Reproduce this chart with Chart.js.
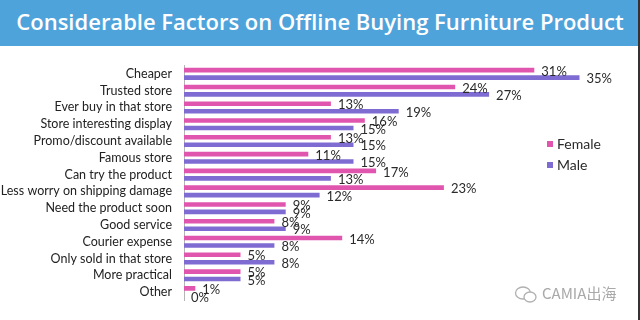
<!DOCTYPE html>
<html>
<head>
<meta charset="utf-8">
<script src="https://cdn.jsdelivr.net/npm/chart.js@4.4.0/dist/chart.umd.min.js"></script>
<style>
  html, body { margin: 0; padding: 0; background: #fff; }
  #wrap { position: relative; width: 640px; height: 320px; overflow: hidden; }
  #banner {
    position: absolute; left: 0; top: 0; width: 640px; height: 46px;
    background: #4fa3db; color: #fff;
    font-family: "Open Sans", sans-serif; font-weight: 600; font-size: 22px;
    line-height: 42px; text-align: center; white-space: nowrap;
  }
  #edge { position: absolute; right: 0; top: 0; width: 2px; height: 320px; background: #333; }
  #chartBox { position: absolute; left: 0; top: 46px; width: 638px; height: 274px; }
  #mark {
    position: absolute; left: 514px; top: 282px; height: 22px;
    font-family: "Noto Sans CJK SC", "Noto Sans", sans-serif; font-size: 15px;
    color: #a9a9a9; line-height: 22px; white-space: nowrap;
  }
  #mark svg { vertical-align: middle; margin-right: 4px; }
</style>
</head>
<body>
<div id="wrap">
  <div id="banner">Considerable Factors on Offline Buying Furniture Product</div>
  <div id="chartBox"><canvas id="chart" width="638" height="274"></canvas></div>
  <div id="mark"><svg width="24" height="20" viewBox="0 0 24 20"><ellipse cx="9" cy="8" rx="7.5" ry="6" fill="none" stroke="#b0b0b0" stroke-width="1.3"/><ellipse cx="16" cy="12" rx="6" ry="5" fill="#fff" stroke="#b0b0b0" stroke-width="1.3"/></svg>CAMIA出海</div>
  <div id="edge"></div>
</div>
<script>
// ---- data ----
const categories = [
  'Cheaper', 'Trusted store', 'Ever buy in that store', 'Store interesting display',
  'Promo/discount available', 'Famous store', 'Can try the product',
  'Less worry on shipping damage', 'Need the product soon', 'Good service',
  'Courier expense', 'Only sold in that store', 'More practical', 'Other'
];
const female = [31, 24, 13, 16, 13, 11, 17, 23, 9, 8, 14, 5, 5, 1];
const male   = [35, 27, 19, 15, 15, 15, 13, 12, 9, 9, 8, 8, 5, 0];
const seriesNames = ['Female', 'Male'];
const seriesColors = ['#e056ae', '#7f6cd2'];

// percentage labels at the end of each bar
const valueLabels = {
  id: 'valueLabels',
  afterDatasetsDraw(chart) {
    const ctx = chart.ctx;
    ctx.save();
    ctx.font = '13px Lato, sans-serif';
    ctx.fillStyle = '#2a2a2a';
    ctx.textBaseline = 'middle';
    ctx.textAlign = 'left';
    chart.data.datasets.forEach((ds, i) => {
      chart.getDatasetMeta(i).data.forEach((bar, j) => {
        ctx.fillText(ds.data[j] + '%', bar.x + 7, bar.y + 1.5);
      });
    });
    ctx.restore();
  }
};

// legend drawn inside the plot, right side
const sideLegend = {
  id: 'sideLegend',
  afterDraw(chart) {
    const ctx = chart.ctx;
    ctx.save();
    ctx.font = '14px Lato, sans-serif';
    ctx.textBaseline = 'middle';
    seriesNames.forEach((name, i) => {
      const y = 98 + i * 21;
      ctx.fillStyle = seriesColors[i];
      ctx.fillRect(547, y - 3, 6, 6);
      ctx.fillStyle = '#2a2a2a';
      ctx.fillText(name, 557, y);
    });
    ctx.restore();
  }
};

new Chart(document.getElementById('chart'), {
  type: 'bar',
  data: {
    labels: categories,
    datasets: [
      { label: seriesNames[0], data: female, backgroundColor: seriesColors[0] },
      { label: seriesNames[1], data: male, backgroundColor: seriesColors[1] }
    ]
  },
  options: {
    indexAxis: 'y',
    responsive: false,
    animation: false,
    maintainAspectRatio: false,
    categoryPercentage: 0.89,
    barPercentage: 0.62,
    layout: { padding: { top: 17, bottom: 4, left: 0, right: 2 } },
    plugins: { legend: { display: false }, tooltip: { enabled: false } },
    scales: {
      x: { display: false, min: 0, max: 40 },
      y: {
        grid: { display: false, drawTicks: false },
        border: { display: true, color: '#b5b5b5', width: 1 },
        ticks: { color: '#222', font: { family: 'Lato', size: 12.5 }, padding: 12, autoSkip: false },
        afterFit(scale) { scale.width = 184; }
      }
    }
  },
  plugins: [valueLabels, sideLegend]
});
</script>
</body>
</html>
